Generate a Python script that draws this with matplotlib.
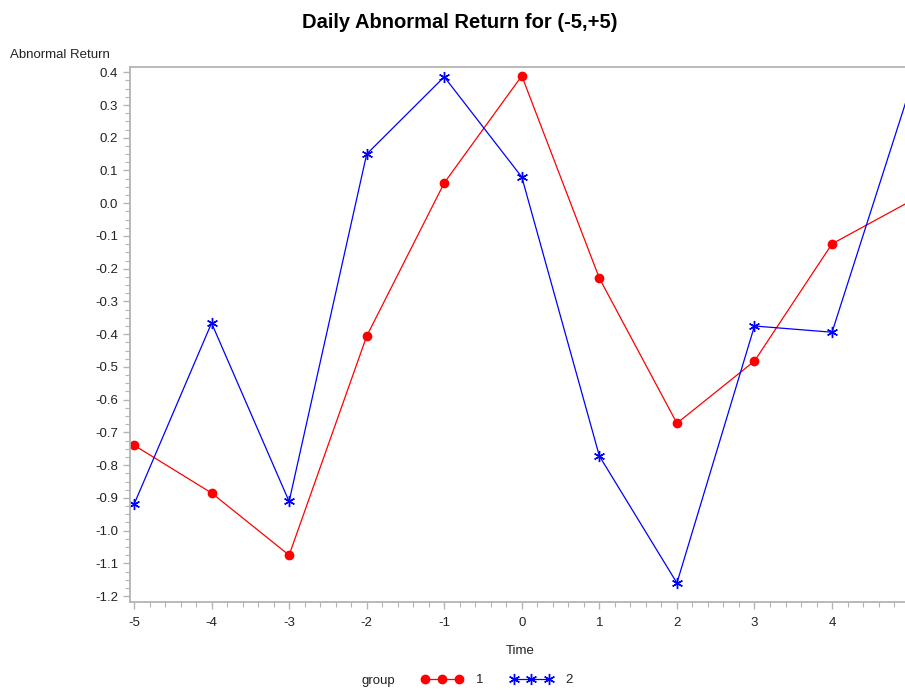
import matplotlib
matplotlib.use("Agg")
import matplotlib.pyplot as plt
from matplotlib.ticker import MultipleLocator, FormatStrFormatter
from matplotlib.lines import Line2D

plt.rcParams['font.family'] = ['Liberation Sans', 'DejaVu Sans']
plt.rcParams['axes.unicode_minus'] = False

time = [-5, -4, -3, -2, -1, 0, 1, 2, 3, 4, 5]
group1 = [-0.739, -0.885, -1.075, -0.406, 0.062, 0.389, -0.229, -0.672, -0.482, -0.124, 0.005]
group2 = [-0.920, -0.366, -0.911, 0.150, 0.386, 0.080, -0.772, -1.160, -0.375, -0.394, 0.345]
xticks = [-5, -4, -3, -2, -1, 0, 1, 2, 3, 4]
yticks = [0.4, 0.3, 0.2, 0.1, 0.0, -0.1, -0.2, -0.3, -0.4, -0.5, -0.6, -0.7, -0.8, -0.9, -1.0, -1.1, -1.2]

W, H = 905, 691
px_per_x = 77.56
x_left_px = 130
x_right_px = 940  # axis continues past the image edge
xmin = -5 - (134 - x_left_px) / px_per_x
xmax = xmin + (x_right_px - x_left_px) / px_per_x

fig = plt.figure(figsize=(W / 100, H / 100), dpi=100)
ax = fig.add_axes([x_left_px / W, 1 - 602 / H, (x_right_px - x_left_px) / W, (602 - 66.7) / H])

ax.plot(time, group1, color='#ff0000', lw=0.9, marker='o', ms=6, mec='#ff0000', mfc='#ff0000')
ax.plot(time, group2, color='#0000ff', lw=0.9, marker=(6, 2, 0), ms=8, mew=1.0)

ax.set_xlim(xmin, xmax)
ax.set_ylim(-1.218, 0.417)
ax.set_xticks(xticks)
ax.set_yticks(yticks)
ax.xaxis.set_minor_locator(MultipleLocator(0.2))
ax.yaxis.set_minor_locator(MultipleLocator(0.025))
ax.yaxis.set_major_formatter(FormatStrFormatter('%.1f'))
ax.xaxis.set_major_formatter(FormatStrFormatter('%d'))

gray = '#b4b4b4'
for s in ['left', 'bottom', 'top']:
    ax.spines[s].set_color(gray)
    ax.spines[s].set_linewidth(1.3)
ax.spines['right'].set_visible(False)
ax.tick_params(which='major', length=5, color=gray, width=1, labelsize=9.5, labelcolor='#222222')
ax.tick_params(which='minor', length=3.5, color=gray, width=0.8)
ax.tick_params(axis='x', pad=6)

fig.text(0.5085, 0.968, 'Daily Abnormal Return for (-5,+5)', ha='center', va='center',
         fontsize=14.5, fontweight='bold')
fig.text(10 / W, 1 - 55 / H, 'Abnormal Return', ha='left', va='center', fontsize=9.5, color='#222222')
fig.text(520 / W, 1 - 651 / H, 'Time', ha='center', va='center', fontsize=9.5, color='#222222')
fig.text(378 / W, 1 - 681 / H, 'group', ha='center', va='center', fontsize=9.5, color='#222222')

h1 = Line2D([], [], color='#ff0000', lw=0.9, marker='o', ms=6)
h2 = Line2D([], [], color='#0000ff', lw=0.9, marker=(6, 2, 0), ms=8)
leg = fig.legend([h1, h2], ['1', '2'], loc='center', bbox_to_anchor=(497 / W, 1 - 680 / H),
                 ncol=2, numpoints=3, frameon=False, fontsize=9.5, handlelength=3.2,
                 columnspacing=2.0, handletextpad=1.0)
for t in leg.get_texts():
    t.set_color('#222222')

fig.savefig('out.png', dpi=100)
